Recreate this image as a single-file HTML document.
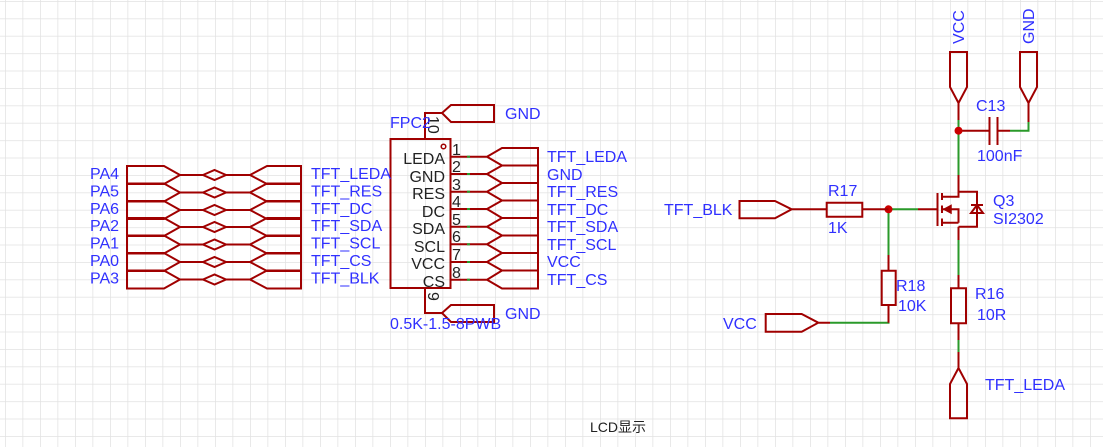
<!DOCTYPE html>
<html><head><meta charset="utf-8"><style>
html,body{margin:0;padding:0;background:#fff;width:1103px;height:447px;overflow:hidden}
svg{display:block}
text{font-family:"Liberation Sans","Noto Sans CJK SC",sans-serif;font-size:16px;fill:#3030ff}
.k{fill:#222}
.s{font-size:14px}
</style></head><body>
<svg width="1103" height="447" viewBox="0 0 1103 447" xmlns="http://www.w3.org/2000/svg">
<defs>
<pattern id="g" x="5" y="1" width="17.5" height="17.4" patternUnits="userSpaceOnUse">
<path d="M0 0V17.4M0 0H17.5" stroke="#e2e2e2" stroke-width="1.5" fill="none"/>
</pattern>
</defs>
<rect width="1103" height="447" fill="url(#g)"/>
<g fill="none" stroke-width="2">
<g stroke="#a00000">
<path d="M127 166H164L180 175L164 184H127Z M180 175H203 M203 175L214.5 170L226 175L214.5 180Z M226 175H250 M250 175L267 166H301V184H267Z"/>
<path d="M127 183.5H164L180 192.5L164 201.5H127Z M180 192.5H203 M203 192.5L214.5 187.5L226 192.5L214.5 197.5Z M226 192.5H250 M250 192.5L267 183.5H301V201.5H267Z"/>
<path d="M127 201H164L180 210L164 219H127Z M180 210H203 M203 210L214.5 205L226 210L214.5 215Z M226 210H250 M250 210L267 201H301V219H267Z"/>
<path d="M127 218H164L180 227L164 236H127Z M180 227H203 M203 227L214.5 222L226 227L214.5 232Z M226 227H250 M250 227L267 218H301V236H267Z"/>
<path d="M127 235.5H164L180 244.5L164 253.5H127Z M180 244.5H203 M203 244.5L214.5 239.5L226 244.5L214.5 249.5Z M226 244.5H250 M250 244.5L267 235.5H301V253.5H267Z"/>
<path d="M127 253H164L180 262L164 271H127Z M180 262H203 M203 262L214.5 257L226 262L214.5 267Z M226 262H250 M250 262L267 253H301V271H267Z"/>
<path d="M127 270.5H164L180 279.5L164 288.5H127Z M180 279.5H203 M203 279.5L214.5 274.5L226 279.5L214.5 284.5Z M226 279.5H250 M250 279.5L267 270.5H301V288.5H267Z"/>
</g>
<rect x="390.5" y="139" width="60" height="149" stroke="#a00000"/>
<circle cx="443.5" cy="146.5" r="2.3" stroke="#a00000" stroke-width="1.5"/>
<path stroke="#a00000" d="M425 139V113H442L451 105H494V122H451L442 113 M425 288V313H442L451 305H494V322H451L442 313"/>
<g stroke="#a00000">
<path d="M451 156.7H487L502 148H538V165.5H502L487 156.7"/>
<path d="M451 174H487L502 165.5H538V183H502L487 174"/>
<path d="M451 191.7H487L502 183H538V200.5H502L487 191.7"/>
<path d="M451 209H487L502 200.5H538V218H502L487 209"/>
<path d="M451 226.7H487L502 218H538V235.5H502L487 226.7"/>
<path d="M451 244.3H487L502 235.5H538V253H502L487 244.3"/>
<path d="M451 262H487L502 253H538V270.5H502L487 262"/>
<path d="M451 279.7H487L502 270.5H538V288.5H502L487 279.7"/>
</g>
<path stroke="#a00000" d="M950 87V52H967V87L958.5 103Z M1020 87V52H1037V87L1028.5 103Z"/>
<path stroke="#a00000" d="M958.5 103V120 M1028.5 103V122 M989.5 117V145 M997.5 117V145 M958.5 130.7H989 M1010 130.7H997.5"/>
<path stroke="#2a9a2a" d="M958.5 120V175 M1028.5 122V130.7H1010"/>
<circle cx="958.5" cy="130.7" r="4" fill="#cc0000" stroke="none"/>
<path stroke="#a00000" d="M958.5 175V196.7H942 M958.5 191.7H977V226.7H958.5 M958.5 222.7H942 M942 209.3H958.5 V222.7 M942 193V200 M942 205.5V213 M942 218.5V226 M937.5 193V226 M971 213H983L977 205Z M971 205H983"/>
<path stroke="#a00000" stroke-width="1.5" fill="#a00000" d="M944 209.3L951 205.5V213Z"/>
<path stroke="#a00000" d="M918 209.3H937.5 M958.5 226.7V240"/>
<path stroke="#2a9a2a" d="M888.5 209.3H918 M958.5 240V275 M888.5 209.3V255 M830 322.7H888.5V306"/>
<circle cx="888.5" cy="209.3" r="4" fill="#cc0000" stroke="none"/>
<path stroke="#a00000" d="M739.5 201V218.3H775L791.7 209.3L775 201Z M791.7 209.3H826.7 M826.7 202.7H862.3V216.7H826.7Z M862.3 209.3H888.5"/>
<path stroke="#a00000" d="M888.5 255V270.7 M881.7 270.7H895.7V305H881.7Z M888.5 305V322.7 M765.7 314H801.7L818.3 322.7L801.7 331.7H765.7Z M818.3 322.7H830"/>
<path stroke="#a00000" d="M958.5 275V288.3 M951 288.3H966V323.3H951Z M958.5 323.3V340"/>
<path stroke="#2a9a2a" d="M958.5 340V352"/>
<path stroke="#a00000" d="M958.5 352V368 M958.5 368L950 384V418.3H967V384Z"/>
</g>
<g fill="#2a9a2a">
<rect x="467" y="155.7" width="3" height="2"/><rect x="467" y="173" width="3" height="2"/><rect x="467" y="190.7" width="3" height="2"/><rect x="467" y="208" width="3" height="2"/><rect x="467" y="225.7" width="3" height="2"/><rect x="467" y="243.3" width="3" height="2"/><rect x="467" y="261" width="3" height="2"/><rect x="467" y="278.7" width="3" height="2"/>
</g>
<g>
<text x="90" y="179">PA4</text><text x="90" y="196.5">PA5</text><text x="90" y="214">PA6</text><text x="90" y="231">PA2</text><text x="90" y="248.5">PA1</text><text x="90" y="266">PA0</text><text x="90" y="283.5">PA3</text>
<text x="311" y="179">TFT_LEDA</text><text x="311" y="196.5">TFT_RES</text><text x="311" y="214">TFT_DC</text><text x="311" y="231">TFT_SDA</text><text x="311" y="248.5">TFT_SCL</text><text x="311" y="266">TFT_CS</text><text x="311" y="283.5">TFT_BLK</text>
<text x="547" y="162">TFT_LEDA</text><text x="547" y="180">GND</text><text x="547" y="197">TFT_RES</text><text x="547" y="215">TFT_DC</text><text x="547" y="232">TFT_SDA</text><text x="547" y="250">TFT_SCL</text><text x="547" y="267">VCC</text><text x="547" y="285">TFT_CS</text>
<text class="k" x="445" y="164" text-anchor="end">LEDA</text><text class="k" x="445" y="182" text-anchor="end">GND</text><text class="k" x="445" y="199" text-anchor="end">RES</text><text class="k" x="445" y="217" text-anchor="end">DC</text><text class="k" x="445" y="234" text-anchor="end">SDA</text><text class="k" x="445" y="252" text-anchor="end">SCL</text><text class="k" x="445" y="269" text-anchor="end">VCC</text><text class="k" x="445" y="287" text-anchor="end">CS</text>
<text class="k" x="452" y="155">1</text><text class="k" x="452" y="172">2</text><text class="k" x="452" y="190">3</text><text class="k" x="452" y="207">4</text><text class="k" x="452" y="225">5</text><text class="k" x="452" y="242">6</text><text class="k" x="452" y="260">7</text><text class="k" x="452" y="278">8</text>
<text class="k" transform="translate(428,116) rotate(90)">10</text>
<text class="k" transform="translate(428,292) rotate(90)">9</text>
<text x="390" y="128">FPC2</text>
<text x="505" y="119">GND</text><text x="505" y="319">GND</text>
<text x="390" y="329">0.5K-1.5-8PWB</text>
<text transform="translate(964,44) rotate(-90)">VCC</text>
<text transform="translate(1034,44) rotate(-90)">GND</text>
<text x="976" y="111">C13</text><text x="977" y="161">100nF</text>
<text x="664" y="215">TFT_BLK</text>
<text x="828" y="196">R17</text><text x="828" y="233">1K</text>
<text x="993" y="206">Q3</text><text x="993" y="224">SI2302</text>
<text x="896" y="291">R18</text><text x="898" y="311">10K</text>
<text x="723" y="329">VCC</text>
<text x="975" y="299">R16</text><text x="977" y="320">10R</text>
<text x="985" y="390">TFT_LEDA</text>
<text class="k s" x="590" y="432">LCD显示</text>
</g>
</svg>
</body></html>
